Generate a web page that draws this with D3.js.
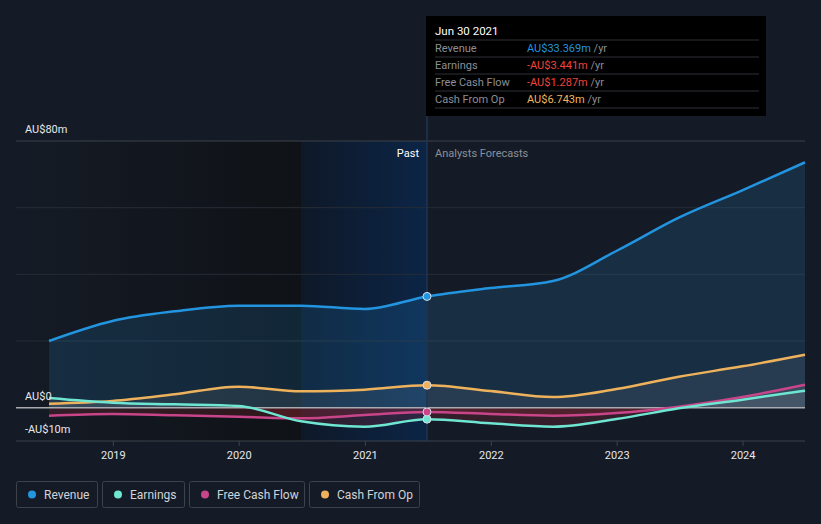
<!DOCTYPE html>
<html lang="en">
  <head>
    <meta charset="UTF-8" />
    <style>
      body {
        margin: 0;
        background-color: #151b26;
      }
      svg {
        display: block;
        font-family: Roboto, "Noto Sans", sans-serif;
      }
    </style>
    <title>Revenue and earnings</title>
  </head>
  <body>
    <script src="https://cdn.jsdelivr.net/npm/d3@7"></script>
    <script>
      // values, AU$ millions
      const dates = [
        "2018-06-30", "2018-12-31", "2019-06-30", "2019-12-31", "2020-06-30",
        "2020-12-31", "2021-06-30", "2021-12-31", "2022-06-30", "2022-12-31",
        "2023-06-30", "2023-12-31", "2024-06-30"
      ];
      const revenue = [20.0, 26.0, 28.9, 30.6, 30.6, 29.6, 33.369, 35.9, 38.0, 47.0, 57.0, 65.2, 73.6];
      const earnings = [2.9, 1.5, 1.0, 0.5, -4.1, -5.7, -3.441, -4.7, -5.7, -3.4, -0.2, 2.4, 5.1];
      const freeCashFlow = [-2.4, -1.9, -2.3, -2.7, -3.2, -2.2, -1.287, -1.9, -2.4, -1.6, 0.3, 3.2, 6.9];
      const cashFromOp = [1.2, 2.0, 4.0, 6.3, 4.9, 5.4, 6.743, 5.0, 3.2, 5.6, 9.3, 12.4, 15.9];
      const yearTicks = [2019, 2020, 2021, 2022, 2023, 2024];
      const yLabels = [
        { v: 80, t: "AU$80m" },
        { v: 0, t: "AU$0" },
        { v: -10, t: "-AU$10m" }
      ];
      const gridValues = [80, 60, 40, 20];
      const pastDate = "2021-06-30";
      const bandStart = "2020-06-30";
      const tipTitle = "Jun 30 2021";
      const tipRows = [
        { label: "Revenue", value: "AU$33.369m", color: "#2394df" },
        { label: "Earnings", value: "-AU$3.441m", color: "#f0443c" },
        { label: "Free Cash Flow", value: "-AU$1.287m", color: "#f0443c" },
        { label: "Cash From Op", value: "AU$6.743m", color: "#f0b45d" }
      ];

      const width = 821;
      const height = 524;
      const parse = d3.timeParse("%Y-%m-%d");

      const series = [
        { name: "Revenue", values: revenue, color: "#2394df" },
        { name: "Earnings", values: earnings, color: "#6ee6d1" },
        { name: "Free Cash Flow", values: freeCashFlow, color: "#c8458a" },
        { name: "Cash From Op", values: cashFromOp, color: "#efb25c" }
      ];

      const x = d3
        .scaleTime()
        .domain([parse(dates[0]), parse(dates[dates.length - 1])])
        .range([49, 805]);
      const y = d3.scaleLinear().domain([-10, 80]).range([441, 141]);

      const svg = d3
        .select("body")
        .append("svg")
        .attr("width", width)
        .attr("height", height);

      const defs = svg.append("defs");
      const darkGrad = defs.append("linearGradient").attr("id", "dark");
      darkGrad.append("stop").attr("offset", "0").attr("stop-color", "#151b26");
      darkGrad.append("stop").attr("offset", "1").attr("stop-color", "#0f1216");
      const blueGrad = defs.append("linearGradient").attr("id", "blue");
      blueGrad.append("stop").attr("offset", "0").attr("stop-color", "#0e1828");
      blueGrad.append("stop").attr("offset", "1").attr("stop-color", "#0c2546");

      const xPast = x(parse(pastDate));
      const xBand = x(parse(bandStart));

      // past shading
      svg
        .append("rect")
        .attr("x", 16)
        .attr("y", y(80))
        .attr("width", xBand - 16)
        .attr("height", y(-10) - y(80))
        .attr("fill", "url(#dark)");
      svg
        .append("rect")
        .attr("x", xBand)
        .attr("y", y(80))
        .attr("width", xPast - xBand)
        .attr("height", y(-10) - y(80))
        .attr("fill", "url(#blue)");

      // grid
      svg
        .selectAll(".grid")
        .data(gridValues)
        .enter()
        .append("line")
        .attr("x1", 16)
        .attr("x2", 805)
        .attr("y1", d => y(d))
        .attr("y2", d => y(d))
        .attr("stroke", (d, i) => (i === 0 ? "#3d424b" : "#262c36"))
        .attr("stroke-width", 1);

      // clips above and below zero
      defs
        .append("clipPath")
        .attr("id", "above")
        .append("rect")
        .attr("x", 0)
        .attr("y", 0)
        .attr("width", width)
        .attr("height", y(0));
      defs
        .append("clipPath")
        .attr("id", "below")
        .append("rect")
        .attr("x", 0)
        .attr("y", y(0))
        .attr("width", width)
        .attr("height", height - y(0));

      const points = s => s.values.map((v, i) => [parse(dates[i]), v]);
      const area = d3
        .area()
        .curve(d3.curveMonotoneX)
        .x(d => x(d[0]))
        .y0(y(0))
        .y1(d => y(d[1]));
      const line = d3
        .line()
        .curve(d3.curveMonotoneX)
        .x(d => x(d[0]))
        .y(d => y(d[1]));

      // areas
      svg
        .append("path")
        .attr("d", area(points(series[0])))
        .attr("fill", "#2394df")
        .attr("fill-opacity", 0.16);
      series.slice(1).forEach(s => {
        svg
          .append("path")
          .attr("d", area(points(s)))
          .attr("clip-path", "url(#above)")
          .attr("fill", "#ffffff")
          .attr("fill-opacity", 0.07);
        svg
          .append("path")
          .attr("d", area(points(s)))
          .attr("clip-path", "url(#below)")
          .attr("fill", "#d8303c")
          .attr("fill-opacity", 0.16);
      });

      // zero and bottom lines
      svg
        .append("line")
        .attr("x1", 16)
        .attr("x2", 805)
        .attr("y1", y(0))
        .attr("y2", y(0))
        .attr("stroke", "#a9abb0")
        .attr("stroke-width", 1.5);
      svg
        .append("line")
        .attr("x1", 16)
        .attr("x2", 805)
        .attr("y1", y(-10))
        .attr("y2", y(-10))
        .attr("stroke", "#3d424b");

      // past/forecast divider
      svg
        .append("line")
        .attr("x1", xPast)
        .attr("x2", xPast)
        .attr("y1", 16)
        .attr("y2", y(-10))
        .attr("stroke", "#1f3552")
        .attr("stroke-width", 1.5);

      // lines, drawn back to front
      [series[3], series[2], series[1], series[0]].forEach(s => {
        svg
          .append("path")
          .attr("d", line(points(s)))
          .attr("fill", "none")
          .attr("stroke", s.color)
          .attr("stroke-width", 2.5);
      });

      // markers at the past date
      const iPast = dates.indexOf(pastDate);
      series.forEach(s => {
        svg
          .append("circle")
          .attr("cx", xPast)
          .attr("cy", y(s.values[iPast]))
          .attr("r", 4)
          .attr("fill", s.color)
          .attr("stroke", "#d8dde6")
          .attr("stroke-width", 1);
      });

      svg
        .append("text")
        .attr("x", xPast - 8)
        .attr("y", 157)
        .attr("text-anchor", "end")
        .attr("fill", "#ffffff")
        .attr("font-size", 11)
        .text("Past");
      svg
        .append("text")
        .attr("x", xPast + 8)
        .attr("y", 157)
        .attr("fill", "#8b9099")
        .attr("font-size", 11)
        .text("Analysts Forecasts");

      // y labels
      svg
        .selectAll(".ylab")
        .data(yLabels)
        .enter()
        .append("text")
        .attr("x", 25)
        .attr("y", d => y(d.v) - 8)
        .attr("fill", "#e6e8ec")
        .attr("font-size", 11)
        .text(d => d.t);

      // x axis
      const xAxis = d3
        .axisBottom(x)
        .tickValues(yearTicks.map(yr => new Date(yr, 0, 1)))
        .tickFormat(d3.timeFormat("%Y"))
        .tickSize(5)
        .tickPadding(5);
      const gx = svg
        .append("g")
        .attr("transform", "translate(0," + y(-10) + ")")
        .call(xAxis);
      gx.select(".domain").remove();
      gx.selectAll("line").attr("stroke", "#3d424b");
      gx.selectAll("text")
        .attr("fill", "#e6e8ec")
        .attr("font-size", 11)
        .attr("font-family", "Roboto, sans-serif");

      // tooltip
      const tip = svg.append("g");
      tip
        .append("rect")
        .attr("x", 426)
        .attr("y", 16)
        .attr("width", 340)
        .attr("height", 100)
        .attr("fill", "#000000");
      tip
        .append("text")
        .attr("x", 435)
        .attr("y", 35)
        .attr("fill", "#ffffff")
        .attr("font-size", 11.5)
        .text(tipTitle);
      tipRows.forEach((r, i) => {
        const yy = 40 + i * 17;
        tip
          .append("line")
          .attr("x1", 435)
          .attr("x2", 759)
          .attr("y1", yy)
          .attr("y2", yy)
          .attr("stroke", "#2e3137");
        tip
          .append("text")
          .attr("x", 435)
          .attr("y", yy + 12)
          .attr("fill", "#8b8f96")
          .attr("font-size", 11)
          .text(r.label);
        const t = tip
          .append("text")
          .attr("x", 527)
          .attr("y", yy + 12)
          .attr("font-size", 11);
        t.append("tspan").attr("fill", r.color).text(r.value);
        t.append("tspan").attr("fill", "#8b8f96").text(" /yr");
      });
      tip
        .append("line")
        .attr("x1", 435)
        .attr("x2", 759)
        .attr("y1", 108)
        .attr("y2", 108)
        .attr("stroke", "#2e3137");

      // legend
      const legendX = [16, 102, 189, 309];
      const legendW = [81, 82, 115, 110];
      series.forEach((s, i) => {
        const g = svg.append("g").attr("transform", "translate(" + legendX[i] + ",481)");
        g.append("rect")
          .attr("x", 0.5)
          .attr("y", 0.5)
          .attr("width", legendW[i])
          .attr("height", 26)
          .attr("rx", 2)
          .attr("fill", "none")
          .attr("stroke", "#3d424b");
        g.append("circle").attr("cx", 16).attr("cy", 13.5).attr("r", 4).attr("fill", s.color);
        g.append("text")
          .attr("x", 28)
          .attr("y", 17.5)
          .attr("fill", "#d0d3d8")
          .attr("font-size", 12)
          .text(s.name);
      });
    </script>
  </body>
</html>
